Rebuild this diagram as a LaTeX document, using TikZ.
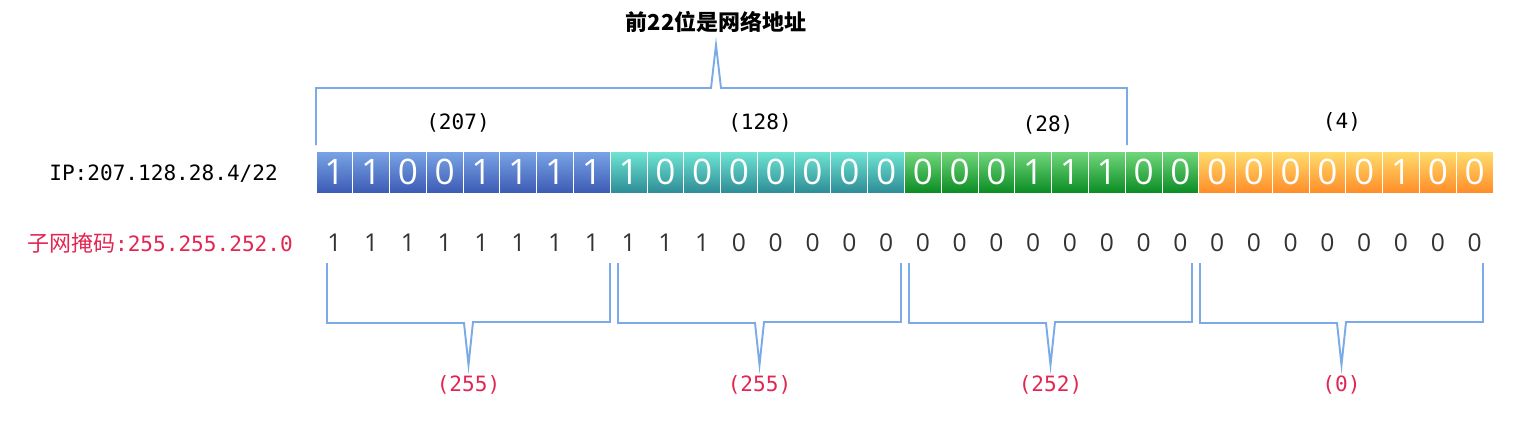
\documentclass[tikz,border=0pt]{standalone}
\usepackage{fontspec}
\setmainfont{DejaVu Sans}
\newfontfamily\cjkfont{Noto Sans CJK SC}
\newfontfamily\monofont{DejaVu Sans Mono}
\newfontfamily\bitfont{Open Sans}

\definecolor{brace_blue}{RGB}{122,170,232}
\definecolor{mask_red}{RGB}{226,38,82}
\definecolor{byte1_top}{RGB}{122,165,230}
\definecolor{byte1_bot}{RGB}{60,90,180}
\definecolor{byte2_top}{RGB}{112,230,212}
\definecolor{byte2_bot}{RGB}{45,140,150}
\definecolor{byte3_top}{RGB}{115,216,125}
\definecolor{byte3_bot}{RGB}{10,140,35}
\definecolor{byte4_top}{RGB}{255,222,110}
\definecolor{byte4_bot}{RGB}{255,140,40}

\begin{document}
\begin{tikzpicture}[x=0.02cm, y=-0.02cm]
	\tikzstyle{bit_cell} = [minimum width=0.7356cm, minimum height=0.84cm, inner sep=0pt, draw=white, line width=0.5pt, text=white, font=\bitfont\fontsize{20}{20}\selectfont]
	\tikzstyle{bit_byte1} = [bit_cell, top color=byte1_top, bottom color=byte1_bot]
	\tikzstyle{bit_byte2} = [bit_cell, top color=byte2_top, bottom color=byte2_bot]
	\tikzstyle{bit_byte3} = [bit_cell, top color=byte3_top, bottom color=byte3_bot]
	\tikzstyle{bit_byte4} = [bit_cell, top color=byte4_top, bottom color=byte4_bot]
	\tikzstyle{mask_bit} = [inner sep=0pt, text=black!80, font=\bitfont\fontsize{14}{14}\selectfont]
	\tikzstyle{byte_value} = [inner sep=0pt, font=\monofont\fontsize{12}{12}\selectfont]
	\tikzstyle{mask_value} = [byte_value, text=mask_red]
	\tikzstyle{brace_line} = [draw=brace_blue, line width=1.1pt, line join=miter]

	\useasboundingbox (0,0) rectangle (1535,420);

%------------------------------------------------------------
	\node[font=\cjkfont\bfseries\fontsize{12.5}{12.5}\selectfont] (title) at (716,22) {前22位是网络地址};
	\draw[brace_line] (316,145) -- (316,88) -- (711,88) -- (716,45) -- (721,88) -- (1127,88) -- (1127,145);

	\node[byte_value] (ip1) at (458,123) {(207)};
	\node[byte_value] (ip2) at (760,123) {(128)};
	\node[byte_value] (ip3) at (1048,125) {(28)};
	\node[byte_value] (ip4) at (1342,122) {(4)};

%------------------------------------------------------------
	\node[anchor=east, font=\monofont\fontsize{12}{12}\selectfont] (ip) at (284,174) {IP:207.128.28.4/22};

	\foreach \b [count=\i from 0] in {1,1,0,0,1,1,1,1}
		\node[bit_byte1] (b\i) at ({316+36.78*(\i+0.5)},172) {\b};
	\foreach \b [count=\i from 8] in {1,0,0,0,0,0,0,0}
		\node[bit_byte2] (b\i) at ({316+36.78*(\i+0.5)},172) {\b};
	\foreach \b [count=\i from 16] in {0,0,0,1,1,1,0,0}
		\node[bit_byte3] (b\i) at ({316+36.78*(\i+0.5)},172) {\b};
	\foreach \b [count=\i from 24] in {0,0,0,0,0,1,0,0}
		\node[bit_byte4] (b\i) at ({316+36.78*(\i+0.5)},172) {\b};

%------------------------------------------------------------
	\node[anchor=east, text=mask_red, font=\monofont\fontsize{12}{12}\selectfont] (mask) at (299,243) {{\cjkfont\fontsize{12.5}{12.5}\selectfont 子网掩码}:255.255.252.0};

	\foreach \b [count=\i from 0] in {1,1,1,1,1,1,1,1, 1,1,1,0,0,0,0,0, 0,0,0,0,0,0,0,0, 0,0,0,0,0,0,0,0}
		\node[mask_bit] (m\i) at ({316+36.78*(\i+0.5)},243) {\b};

%------------------------------------------------------------
	\foreach \k/\v in {0/255, 1/255, 2/252, 3/0} {
		\pgfmathsetmacro\xl{327+291*\k}
		\draw[brace_line] (\xl,263) -- (\xl,323) -- (\xl+137,323) -- (\xl+141.5,365) -- (\xl+146,322) -- (\xl+283,322) -- (\xl+283,263);
		\node[mask_value] (v\k) at (\xl+141.5,385) {(\v)};
	}

\end{tikzpicture}
\end{document}
